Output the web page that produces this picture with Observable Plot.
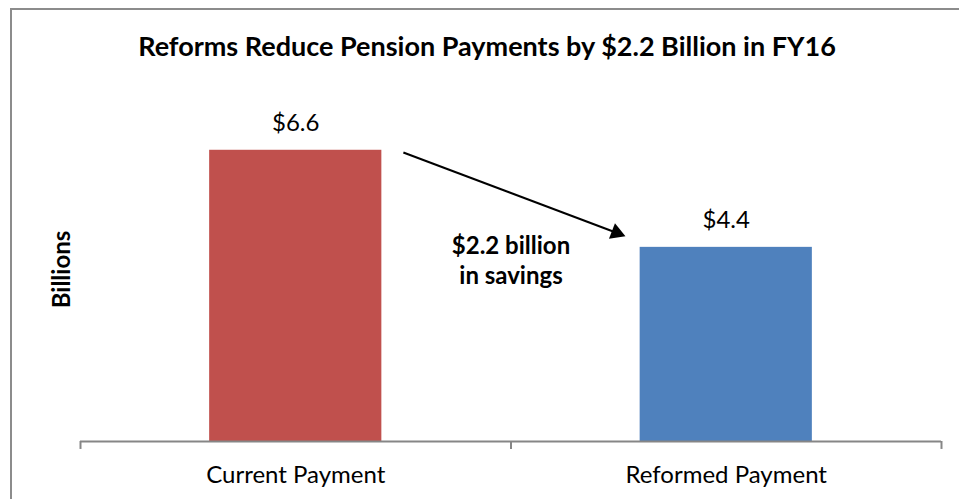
<!DOCTYPE html>
<html>
<head>
<meta charset="utf-8">
<script src="https://cdn.jsdelivr.net/npm/d3@7"></script>
<script src="https://cdn.jsdelivr.net/npm/@observablehq/plot@0.6"></script>
<style>
  html, body { margin: 0; padding: 0; background: #fff; overflow: hidden; }
  #wrap { position: relative; width: 959px; height: 499px; }
  #border { position: absolute; left: 10px; top: 8px; width: 1000px; height: 600px;
            border-left: 2px solid #8c8c8c; border-top: 2px solid #8c8c8c; pointer-events: none; }
  svg { display: block; }
</style>
</head>
<body>
<div id="wrap"><div id="border"></div></div>
<script>
const title = "Reforms Reduce Pension Payments by $2.2 Billion in FY16";
const categories = ["Current Payment", "Reformed Payment"];
const values = [6.6, 4.4];
const yLabel = "Billions";
const annotation = "$2.2 billion\nin savings";

const data = categories.map((c, i) => ({category: c, value: values[i], i}));
const font = "Lato, 'Open Sans', sans-serif";

const chart = Plot.plot({
  width: 959,
  height: 499,
  marginLeft: 80,
  marginRight: 18,
  marginTop: 88,
  marginBottom: 58,
  style: {fontFamily: font, background: "transparent"},
  x: {type: "linear", domain: [0, categories.length], axis: null},
  y: {type: "linear", domain: [0, 8], axis: null},
  color: {domain: categories, range: ["#C0504D", "#4F81BD"]},
  marks: [
    Plot.rectY(data, {x1: d => d.i + 0.3, x2: d => d.i + 0.7, y1: 0, y2: "value", fill: "category"}),
    Plot.ruleY([0], {stroke: "#868686", strokeWidth: 2}),
    Plot.ruleX(d3.range(categories.length + 1), {x: d => d, y1: 0, y2: -0.18, stroke: "#868686", strokeWidth: 2}),
    Plot.text(data, {x: d => d.i + 0.5, y: "value", text: d => "$" + d.value.toFixed(1),
      lineAnchor: "bottom", dy: -19, fontSize: 24, fill: "#000"}),
    Plot.text(data, {x: d => d.i + 0.5, y: 0, text: "category", lineAnchor: "middle",
      dy: 34, fontSize: 24, fill: "#000"}),
    Plot.text([title], {frameAnchor: "top", text: d => d, textAnchor: "middle", lineAnchor: "bottom",
      dy: -33, dx: -24, fontSize: 27, fontWeight: "bold", fill: "#000"}),
    Plot.text([yLabel], {frameAnchor: "left", text: d => d, textAnchor: "middle", rotate: -90, dx: -18, dy: 4.5,
      lineAnchor: "middle", fontSize: 24, fontWeight: "bold", fill: "#000"}),
    Plot.text([annotation], {x: 1, y: 3.58, text: d => d, lineAnchor: "bottom", lineHeight: 1.25,
      fontSize: 24, fontWeight: "bold", fill: "#000"}),
    Plot.link([{x1: 0.75, y1: 6.55, x2: 1.245, y2: 4.73}], {x1: "x1", y1: "y1", x2: "x2", y2: "y2",
      stroke: "#000", strokeWidth: 2}),
    Plot.dot([{x: 1.245, y: 4.73}], {x: "x", y: "y", symbol: "triangle", r: 6.2, rotate: 111,
      fill: "#000", stroke: "none"})
  ]
});
document.getElementById("wrap").prepend(chart);
</script>
</body>
</html>
